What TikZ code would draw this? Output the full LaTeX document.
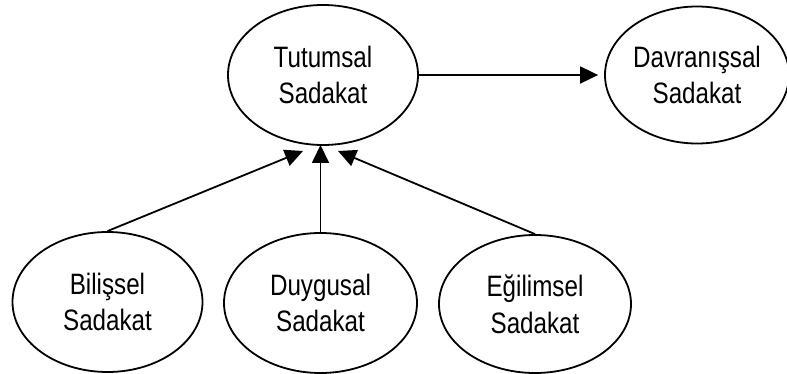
\documentclass[tikz,border=0pt]{standalone}
\usepackage{fontspec}
\setmainfont[FakeStretch=0.82]{Liberation Sans}
\usetikzlibrary{shapes.geometric,arrows.meta}
\begin{document}
\begin{tikzpicture}[x=1pt,y=-1pt,
  oval/.style={draw=black,ellipse,line width=1.8pt,inner sep=0pt,
    minimum width=190pt,minimum height=140pt,align=center,
    font=\fontsize{29.5}{36.7}\selectfont},
  conn/.style={line width=1.8pt,-{Triangle[length=18pt,width=17pt]}}]
\useasboundingbox (0,0) rectangle (787,374);
\node[oval] (tut) at (323,75) {Tutumsal\\Sadakat};
\node[oval,minimum width=184pt,minimum height=137pt] (dav) at (697,75) {Davranışsal\\Sadakat};
\node[oval] (bil) at (107.5,302) {Bilişsel\\Sadakat};
\node[oval,minimum width=193pt] (duy) at (320.5,303) {Duygusal\\Sadakat};
\node[oval,minimum width=192pt,minimum height=138pt] (egi) at (535,304) {Eğilimsel\\Sadakat};
\coordinate (t1) at (303,151);
\coordinate (t2) at (320.5,145);
\coordinate (t3) at (338,151);
\draw[conn] (tut.east) -- ([xshift=-6pt]dav.west);
\draw[conn] (bil.north) -- (t1);
\draw[conn] (duy.north) -- (t2);
\draw[conn] (egi.north) -- (t3);
\end{tikzpicture}
\end{document}
